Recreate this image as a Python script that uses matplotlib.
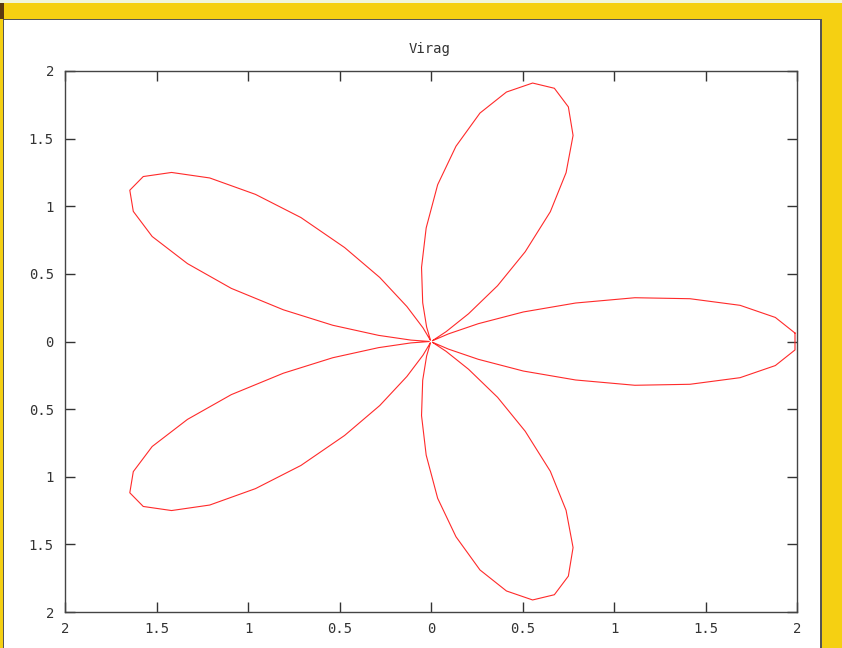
import numpy as np
import matplotlib
matplotlib.use("Agg")
import matplotlib.pyplot as plt
from matplotlib.patches import Rectangle

titulo = "Virag"

petalo_1 = [1.99, 1.89, 1.71, 1.45, 1.16, 0.84, 0.55, 0.29, 0.11, 0.01,
            0.01, 0.11, 0.29, 0.55, 0.84, 1.16, 1.45, 1.71, 1.89, 1.99]
petalo_2 = [1.99, 1.89, 1.71, 1.45, 1.16, 0.84, 0.55, 0.29, 0.11, 0.01,
            0.01, 0.11, 0.29, 0.55, 0.84, 1.16, 1.45, 1.71, 1.89, 1.99]
petalo_3 = [1.99, 1.89, 1.71, 1.45, 1.16, 0.84, 0.55, 0.29, 0.11, 0.01,
            0.01, 0.11, 0.29, 0.55, 0.84, 1.16, 1.45, 1.71, 1.89, 1.99]
petalo_4 = [1.99, 1.89, 1.71, 1.45, 1.16, 0.84, 0.55, 0.29, 0.11, 0.01,
            0.01, 0.11, 0.29, 0.55, 0.84, 1.16, 1.45, 1.71, 1.89, 1.99]
petalo_5 = [1.99, 1.89, 1.71, 1.45, 1.16, 0.84, 0.55, 0.29, 0.11, 0.01,
            0.01, 0.11, 0.29, 0.55, 0.84, 1.16, 1.45, 1.71, 1.89, 1.99]
radio = petalo_1 + petalo_2 + petalo_3 + petalo_4 + petalo_5
angulo = np.deg2rad(1.8 + 3.6 * np.arange(len(radio)))

ticks = [-2, -1.5, -1, -0.5, 0, 0.5, 1, 1.5, 2]
etiquetas = ["2", "1.5", "1", "0.5", "0", "0.5", "1", "1.5", "2"]

W, H = 842, 648
fig = plt.figure(figsize=(W / 100, H / 100), dpi=100)
fig.patch.set_facecolor("#F5D012")

# marco de la ventana
def px_rect(x0, y0, x1, y1, **kw):
    fig.patches.append(Rectangle((x0 / W, 1 - y1 / H), (x1 - x0) / W, (y1 - y0) / H,
                                 transform=fig.transFigure, figure=fig, zorder=-10, **kw))

px_rect(0, 0, W, 3, facecolor="#F0F5DC", edgecolor="none")
px_rect(0, 3, 4, 19, facecolor="#5A3A12", edgecolor="none")
px_rect(3, 19, 822, H + 2, facecolor="#555555", edgecolor="none")
px_rect(4, 20, 820, H + 2, facecolor="white", edgecolor="none")

ax = fig.add_axes([65 / W, 36 / H, (797 - 65) / W, (612 - 71) / H])
ax.set_facecolor("none")
r = np.array(radio + radio[:1])
t = np.append(angulo, angulo[0])
ax.plot(r * np.cos(t), r * np.sin(t), color="#FF2A2A", lw=0.8)

ax.set_xlim(-2, 2)
ax.set_ylim(-2, 2)
fuente = {"family": "DejaVu Sans Mono", "size": 10}
ax.set_xticks(ticks)
ax.set_xticklabels(etiquetas, fontdict=fuente, color="#333333")
ax.set_yticks(ticks)
ax.set_yticklabels(etiquetas, fontdict=fuente, color="#333333")
ax.tick_params(direction="in", length=7, width=1, color="#333333",
               top=True, right=True)
ax.tick_params(axis="x", pad=7)
ax.tick_params(axis="y", pad=8)
for s in ax.spines.values():
    s.set_color("#444444")
    s.set_linewidth(1)

fig.text(430 / W, 1 - 49 / H, titulo, ha="center", va="center",
         fontdict=fuente, color="#333333")

fig.savefig("out.png", dpi=100)
